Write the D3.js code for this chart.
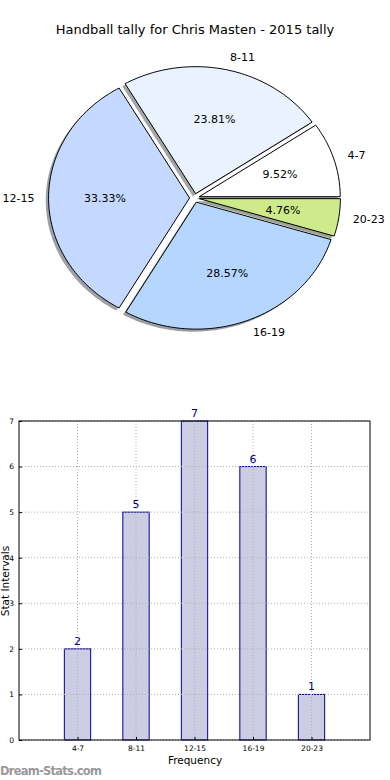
<!DOCTYPE html>
<html><head><meta charset="utf-8">
<script src="https://cdn.jsdelivr.net/npm/d3@7"></script>
<style>body{margin:0;background:#fff;}svg{display:block;font-family:"DejaVu Sans",sans-serif;}</style>
</head><body>
<script>
const categories = ["4-7","8-11","12-15","16-19","20-23"];
const counts = [2,5,7,6,1];
const pieColors = ["#ffffff","#eaf2ff","#c5d8ff","#b5d6ff","#cdeb8b"];
const yTicks = [0,1,2,3,4,5,6,7];
const title = "Handball tally for Chris Masten - 2015 tally";

const W=390,H=780;
const svg=d3.select("body").append("svg").attr("width",W).attr("height",H);

svg.append("text").attr("x",195).attr("y",34).attr("text-anchor","middle")
  .attr("font-size",13).attr("fill","#000").text(title);

// ---- Pie (matplotlib-style, counterclockwise from 0deg, elliptical) ----
const cx=194.5, cy=198, rx=141, ry=127, explode=0.035;
const total=d3.sum(counts);
const pieGen=d3.pie().sort(null).value(d=>d)
  .startAngle(0).endAngle(2*Math.PI);
const arcs=pieGen(counts);
const slices=arcs.map((a,i)=>{
  const t0=a.startAngle, t1=a.endAngle; // used as math angles CCW from +x
  const tm=(t0+t1)/2;
  const ex=explode*rx*Math.cos(tm), ey=-explode*ry*Math.sin(tm);
  return {i,t0,t1,tm,ex,ey,v:a.value};
});
function slicePath(s){
  const n=Math.max(4,Math.ceil((s.t1-s.t0)/0.02));
  const pts=[[0,0]];
  for(let k=0;k<=n;k++){
    const t=s.t0+(s.t1-s.t0)*k/n;
    pts.push([rx*Math.cos(t),-ry*Math.sin(t)]);
  }
  return d3.line()(pts)+"Z";
}
const pieG=svg.append("g").attr("transform",`translate(${cx},${cy})`);
slices.forEach(s=>{
  const c=d3.rgb(pieColors[s.i]);
  const sc=d3.rgb(c.r*0.3,c.g*0.3,c.b*0.3);
  pieG.append("path").attr("d",slicePath(s))
    .attr("transform",`translate(${s.ex-0.02*rx},${s.ey+0.02*ry})`)
    .attr("fill",sc.toString()).attr("fill-opacity",0.5).attr("stroke","none");
});
slices.forEach(s=>{
  pieG.append("path").attr("d",slicePath(s))
    .attr("transform",`translate(${s.ex},${s.ey})`)
    .attr("fill",pieColors[s.i]).attr("stroke","#000").attr("stroke-width",1);
});
slices.forEach(s=>{
  const lx=s.ex+1.1*rx*Math.cos(s.tm), ly=s.ey-1.1*ry*Math.sin(s.tm);
  pieG.append("text").attr("x",lx).attr("y",ly).attr("dy","0.35em")
    .attr("text-anchor",Math.cos(s.tm)>0?"start":"end")
    .attr("font-size",11).attr("fill","#000").text(categories[s.i]);
  const px=s.ex+0.6*rx*Math.cos(s.tm), py=s.ey-0.6*ry*Math.sin(s.tm);
  pieG.append("text").attr("x",px).attr("y",py).attr("dy","0.35em")
    .attr("text-anchor","middle").attr("font-size",11).attr("fill","#000")
    .text((s.v/total*100).toFixed(2)+"%");
});

// ---- Bar chart ----
const L=19,R=370,T=421,B=740;
const x=d3.scaleLinear().domain([-1,5]).range([L,R]);
const y=d3.scaleLinear().domain([0,7]).range([B,T]);
const bw=0.45;
const g=svg.append("g");
g.selectAll("rect.bar").data(counts).enter().append("rect")
  .attr("x",(d,i)=>x(i-bw/2)).attr("width",x(bw)-x(0))
  .attr("y",d=>y(d)).attr("height",d=>y(0)-y(d))
  .attr("fill","#cccce2").attr("stroke","#000088").attr("stroke-width",1);
const grid=g.append("g").attr("stroke","#b0b0b0").attr("stroke-dasharray","1,2").attr("stroke-width",1);
yTicks.forEach(t=>grid.append("line").attr("x1",L).attr("x2",R).attr("y1",y(t)).attr("y2",y(t)));
categories.forEach((c,i)=>grid.append("line").attr("x1",x(i)).attr("x2",x(i)).attr("y1",T).attr("y2",B));
g.append("rect").attr("x",L).attr("y",T).attr("width",R-L).attr("height",B-T)
  .attr("fill","none").attr("stroke","#000").attr("stroke-width",1);
const yAxis=d3.axisLeft(y).tickValues(yTicks).tickSize(-3).tickPadding(5).tickFormat(d3.format("d"));
const ya=g.append("g").attr("transform",`translate(${L},0)`).call(yAxis);
ya.select(".domain").remove();
ya.selectAll("text").attr("font-size",7.5).attr("font-family","DejaVu Sans").attr("fill","#000");
ya.selectAll("line").attr("stroke","#000");
const xAxis=d3.axisBottom(x).tickValues(d3.range(categories.length)).tickSize(-3).tickPadding(6)
  .tickFormat(i=>categories[i]);
const xa=g.append("g").attr("transform",`translate(0,${B})`).call(xAxis);
xa.select(".domain").remove();
xa.selectAll("text").attr("font-size",7.5).attr("font-family","DejaVu Sans").attr("fill","#000");
xa.selectAll("line").attr("stroke","#000");
g.selectAll("text.val").data(counts).enter().append("text")
  .attr("x",(d,i)=>x(i)).attr("y",d=>y(d)-4).attr("text-anchor","middle")
  .attr("font-size",11).attr("fill","#000088").text(d=>d);
svg.append("text").attr("x",195).attr("y",764).attr("text-anchor","middle")
  .attr("font-size",10.5).attr("fill","#000").text("Frequency");
svg.append("text").attr("transform","translate(9,581) rotate(-90)").attr("text-anchor","middle")
  .attr("font-size",10.5).attr("fill","#000").text("Stat Intervals");
svg.append("text").attr("x",0).attr("y",775).attr("font-size",11.5).attr("font-weight","600")
  .attr("fill","#999999").attr("textLength",102).text("Dream-Stats.com");
</script>
</body></html>
